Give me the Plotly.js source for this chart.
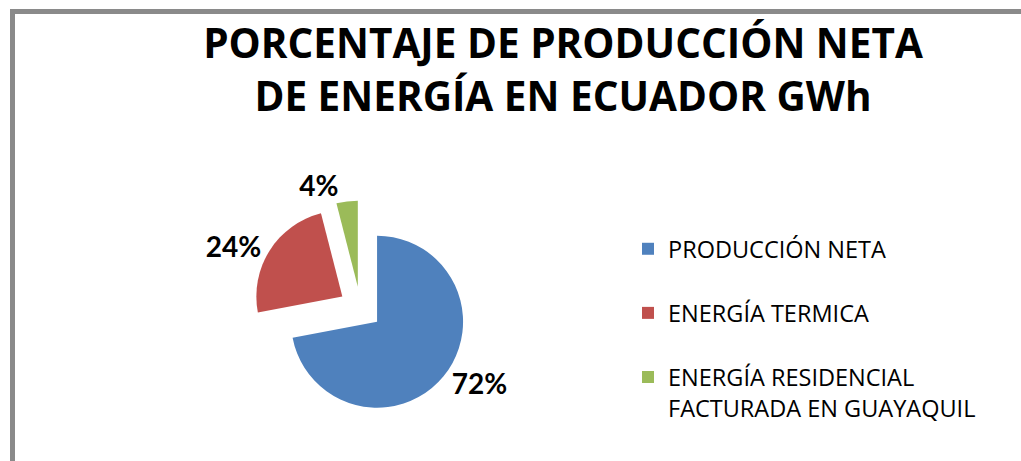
<!DOCTYPE html>
<html>
<head>
<meta charset="utf-8">
<script src="https://cdn.plot.ly/plotly-3.0.1.min.js"></script>
<style>
  html, body { margin: 0; padding: 0; background: #ffffff; }
  #wrap { position: relative; width: 1021px; height: 461px; overflow: hidden; background: #ffffff; }
  #chart { position: absolute; left: 0; top: 0; width: 1021px; height: 461px; }
  #frame { position: absolute; left: 10px; top: 9px; width: 1100px; height: 600px;
           border-left: 5px solid #8a8a8a; border-top: 5px solid #8a8a8a; pointer-events: none; }
</style>
</head>
<body>
<div id="wrap">
  <div id="chart"></div>
  <div id="frame"></div>
</div>
<script>
const categories = [
  "PRODUCCIÓN NETA",
  "ENERGÍA TERMICA",
  "ENERGÍA RESIDENCIAL<br>FACTURADA EN GUAYAQUIL"
];
const percentages = [72, 24, 4];
const sliceColors = ["#4F81BD", "#C0504D", "#9BBB59"];
const chartTitle = "PORCENTAJE DE PRODUCCIÓN NETA<br>DE ENERGÍA EN ECUADOR GWh";

const W = 1021, H = 461;

// a trailing blank line in each legend entry gives the wide spacing of the original legend
const legendLabels = categories.map(c => c + "<br> ");

const labelFont = { family: "Lato, 'Liberation Sans', sans-serif", size: 28, color: "#000000", weight: "bold" };

const trace = {
  type: "pie",
  labels: legendLabels,
  values: percentages,
  sort: false,
  direction: "clockwise",
  rotation: 0,
  pull: [0.25, 0.25, 0.25],
  marker: { colors: sliceColors, line: { width: 0 } },
  textinfo: "percent",
  texttemplate: "%{percent:.0%}",
  textposition: "outside",
  textfont: labelFont,
  outsidetextfont: labelFont,
  automargin: false,
  domain: {
    x: [(360.5 - 107.5) / W, (360.5 + 107.5) / W],
    y: [(H - 308 - 107.5) / H, (H - 308 + 107.5) / H]
  },
  hoverinfo: "percent"
};

const layout = {
  width: W,
  height: H,
  margin: { l: 0, r: 0, t: 0, b: 0 },
  paper_bgcolor: "#ffffff",
  plot_bgcolor: "#ffffff",
  showlegend: true,
  title: {
    text: chartTitle,
    font: { family: "'Open Sans', 'Liberation Sans', sans-serif", size: 40.5, color: "#000000", weight: "bold" },
    xref: "container",
    yref: "container",
    x: 563 / W,
    xanchor: "center",
    y: 1 - 58 / H,
    yanchor: "top"
  },
  legend: {
    x: 628 / W,
    xanchor: "left",
    y: 1 - 227 / H,
    yanchor: "top",
    font: { family: "'Open Sans', 'Liberation Sans', sans-serif", size: 23.5, color: "#000000" },
    bgcolor: "rgba(0,0,0,0)",
    valign: "top"
  }
};

Plotly.newPlot("chart", [trace], layout, { displayModeBar: false, staticPlot: true });
</script>
</body>
</html>
